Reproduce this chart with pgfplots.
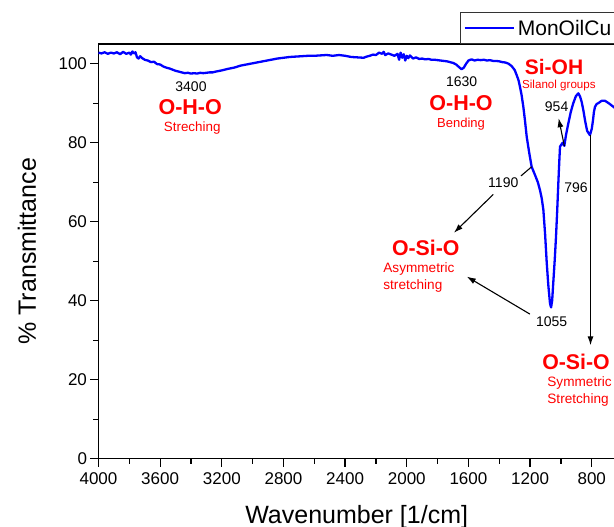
\documentclass[border=0pt]{standalone}
\usepackage{fontspec}
\setmainfont{Liberation Sans}
\usepackage{pgfplots}
\pgfplotsset{compat=1.18}
\usetikzlibrary{arrows.meta}
\definecolor{specblue}{RGB}{0,0,255}
\definecolor{annred}{RGB}{255,0,0}
\begin{document}
\begin{tikzpicture}
\useasboundingbox (-98.5pt,-68.3pt) rectangle (515.5pt,458.7pt);
\begin{axis}[
  at={(0pt,0pt)}, anchor=south west,
  scale only axis,
  width=516.4pt, height=414.75pt,
  x dir=reverse,
  xmin=650, xmax=4000,
  ymin=0, ymax=105,
  xtick={800,1200,...,4000},
  minor x tick num=1,
  ytick={0,20,...,100},
  minor y tick num=1,
  tick align=outside,
  major tick length=8pt,
  minor tick length=5pt,
  xtick pos=bottom, ytick pos=left,
  axis line style={line width=1.3pt},
  every tick/.style={black, line width=1.3pt},
  /pgf/number format/assume math mode=true,
  /pgf/number format/1000 sep={},
  ticklabel style={font=\fontsize{17}{17}\selectfont},
  xticklabel style={yshift=-2pt},
  xlabel={Wavenumber [1/cm]},
  ylabel={\% Transmittance},
  xlabel style={font=\fontsize{25}{25}\selectfont, at={(axis description cs:0.5,-0.1398)}, anchor=center},
  ylabel style={font=\fontsize{25}{25}\selectfont, at={(axis description cs:-0.1385,0.5)}, anchor=center},
  legend style={at={(axis description cs:0.700,1)}, anchor=south west, draw=black!80, line width=0.8pt,
    inner xsep=3pt, inner ysep=2pt, font=\fontsize{21}{21}\selectfont,
    nodes={inner ysep=5pt, inner xsep=3pt}},
  legend cell align=left,
  legend image code/.code={\draw[#1, line width=2.5pt] (0pt,0pt) -- (49pt,0pt);},
]
\addplot[specblue, line width=2.3pt, line join=round] coordinates {
(4000,102.8) (3980,102.6) (3960,102.9) (3940,102.5) (3920,102.8) (3900,102.6)
(3880,102.9) (3860,102.4) (3840,103.0) (3820,102.5) (3800,102.8) (3790,102.3)
(3780,103.1) (3770,102.6) (3760,102.9) (3750,101.6) (3740,101.3) (3730,101.9)
(3720,101.5) (3700,101.0) (3680,100.8) (3660,100.4) (3640,100.5) (3620,99.9)
(3600,99.8) (3580,99.3) (3560,99.0) (3540,98.8) (3520,98.5) (3500,98.2)
(3480,98.0) (3460,97.8) (3440,97.6) (3420,97.7) (3400,97.5) (3380,97.6)
(3360,97.5) (3340,97.7) (3320,97.6) (3300,97.7) (3280,97.8) (3260,97.8)
(3240,98.0) (3200,98.3) (3160,98.7) (3120,99.0) (3080,99.5) (3040,99.8)
(3000,100.1) (2960,100.4) (2920,100.7) (2880,101.0) (2840,101.3) (2800,101.5)
(2760,101.7) (2720,101.8) (2680,101.9) (2640,102.0) (2600,102.0) (2560,102.1)
(2520,102.2) (2480,102.0) (2440,102.2) (2400,102.0) (2360,101.7) (2320,101.6)
(2280,101.5) (2260,101.8) (2240,102.0) (2220,102.3) (2200,102.2) (2180,102.8)
(2160,102.5) (2150,103.0) (2140,102.2) (2120,102.6) (2100,102.3) (2080,102.0)
(2060,102.5) (2050,101.0) (2040,102.8) (2030,101.5) (2020,102.4) (2010,100.8)
(2000,102.0) (1990,101.4) (1980,102.1) (1960,101.3) (1940,101.6) (1920,101.2)
(1900,101.3) (1880,101.1) (1860,101.2) (1840,101.0) (1820,101.0) (1800,100.9)
(1780,100.8) (1760,100.7) (1740,100.6) (1720,100.4) (1700,100.2) (1680,99.8)
(1660,99.1) (1645,98.6) (1630,99.0) (1615,100.0) (1600,100.8) (1580,101.1)
(1560,100.8) (1540,101.0) (1520,100.9) (1500,101.0) (1480,100.8) (1460,100.9)
(1440,100.7) (1420,100.7) (1400,100.6) (1380,100.4) (1360,100.3) (1340,100.0)
(1320,99.4) (1300,98.4) (1287,97.1) (1275,95.8) (1266,94.2) (1255,92.0)
(1244,89.1) (1233,85.5) (1222,81.5) (1206,77.5) (1190,73.9) (1168,71.8)
(1150,70.0) (1136,68.0) (1125,66.0) (1114,63.0) (1103,57.0) (1092,49.5)
(1082,44.0) (1071,39.3) (1064,38.3) (1057,40.0) (1050,44.4) (1040,50.5)
(1032,56.2) (1024,63.0) (1017,69.7) (1011,75.0) (1006,79.0) (989,80.0)
(978,79.2) (967,82.0) (952,84.9) (936,87.8) (920,90.0) (903,91.8)
(887,92.5) (876,91.7) (866,90.4) (855,88.3) (844,85.7) (830,83.0)
(812,81.9) (800,83.5) (792,85.7) (786,87.8) (779,89.1) (768,89.8)
(758,90.0) (736,90.6) (714,90.6) (690,90.0) (660,89.1) (650,88.8)
};
\addlegendentry{MonOilCu}

\begin{scope}[every node/.style={inner sep=0pt}]
\node[font=\fontsize{14}{14}\selectfont] at (axis cs:3400,94.1) {3400};
\node[font=\fontsize{21.5}{21.5}\selectfont\bfseries, text=annred] at (axis cs:3405,89.0) {O-H-O};
\node[font=\fontsize{13.4}{13.4}\selectfont, text=annred] at (axis cs:3392,83.7) {Streching};

\node[font=\fontsize{14}{14}\selectfont] at (axis cs:1644,95.4) {1630};
\node[font=\fontsize{21.5}{21.5}\selectfont\bfseries, text=annred] at (axis cs:1648,90.1) {O-H-O};
\node[font=\fontsize{13}{13}\selectfont, text=annred] at (axis cs:1648,84.7) {Bending};

\node[font=\fontsize{21}{21}\selectfont\bfseries, text=annred] at (axis cs:1045,99.2) {Si-OH};
\node[font=\fontsize{11.6}{11.6}\selectfont, text=annred] at (axis cs:1013,94.4) {Silanol groups};
\node[font=\fontsize{14}{14}\selectfont] at (axis cs:1028,89.0) {954};

\node[font=\fontsize{14}{14}\selectfont] at (axis cs:1374,69.9) {1190};
\node[font=\fontsize{21.3}{21.3}\selectfont\bfseries, text=annred] at (axis cs:1877,53.3) {O-Si-O};
\node[font=\fontsize{13.6}{13.6}\selectfont, text=annred, anchor=west] at (axis cs:2153,48.0) {Asymmetric};
\node[font=\fontsize{13.6}{13.6}\selectfont, text=annred, anchor=west] at (axis cs:2153,43.7) {stretching};

\node[font=\fontsize{14}{14}\selectfont] at (axis cs:1060,34.7) {1055};
\node[font=\fontsize{14}{14}\selectfont] at (axis cs:902,68.6) {796};
\node[font=\fontsize{21.3}{21.3}\selectfont\bfseries, text=annred] at (axis cs:902,24.4) {O-Si-O};
\node[font=\fontsize{13.6}{13.6}\selectfont, text=annred, anchor=west] at (axis cs:1089,19.1) {Symmetric};
\node[font=\fontsize{13.6}{13.6}\selectfont, text=annred, anchor=west] at (axis cs:1089,14.9) {Stretching};
\end{scope}

\begin{scope}[line width=1.1pt, black]
\draw[-{Latex[length=9pt,width=6pt]}] (axis cs:978,79.2) -- (axis cs:1015,86.2);
\draw (axis cs:1259,71.6) -- (axis cs:1190,73.9);
\draw[-{Latex[length=9pt,width=6pt]}] (axis cs:1439,66.9) -- (axis cs:1694,57.2);
\draw[-{Latex[length=9pt,width=6pt]}] (axis cs:1201,36.6) -- (axis cs:1611,46.1);
\draw[-{Latex[length=9pt,width=6pt]}] (axis cs:808,81.9) -- (axis cs:808,28.7);
\end{scope}
\end{axis}
\end{tikzpicture}
\end{document}
